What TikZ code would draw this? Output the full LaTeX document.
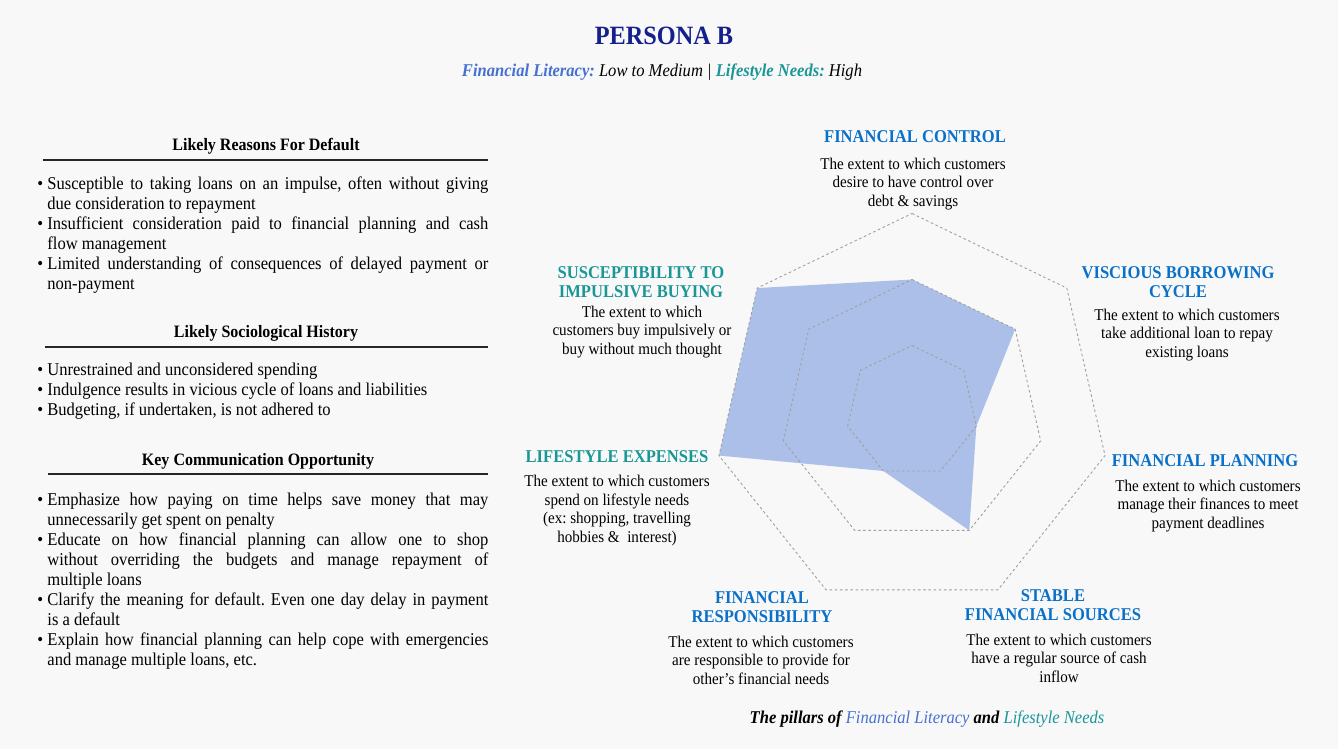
\documentclass[tikz,border=0pt]{standalone}
\usepackage{fontspec}
\setmainfont{Liberation Serif}[FakeStretch=0.92]
\usetikzlibrary{positioning}

\definecolor{personanavy}{RGB}{20,32,140}
\definecolor{litblue}{RGB}{70,112,210}
\definecolor{needteal}{RGB}{26,150,150}
\definecolor{pillarblue}{RGB}{10,112,200}
\definecolor{radarfill}{RGB}{172,191,233}
\definecolor{gridgray}{RGB}{160,160,160}
\definecolor{pagebg}{RGB}{248,248,249}

% hanging bullet for the left lists
\newcommand{\bitem}{\par\noindent\hangindent=5pt\hangafter=1\makebox[5pt][l]{\textbullet}}
\frenchspacing

\tikzset{
  pillarhead/.style={font=\fontsize{9}{9.5}\selectfont\bfseries, align=center, inner sep=0pt},
  literacy/.style={pillarhead, text=pillarblue},
  lifestyle/.style={pillarhead, text=needteal},
  pillartext/.style={font=\fontsize{8.2}{9.2}\selectfont, align=center, inner sep=0pt},
  listhead/.style={font=\fontsize{8.7}{10}\selectfont\bfseries, inner sep=0pt},
  listtext/.style={font=\fontsize{9}{10}\selectfont, text width=225.5pt,
    align=justify, inner sep=0pt, anchor=north west},
  headrule/.style={line width=0.9pt, draw=black!85},
  gridring/.style={draw=gridgray, line width=0.45pt, dash pattern=on 1.3pt off 1.3pt}
}

\begin{document}
\begin{tikzpicture}[x=0.5pt, y=-0.5pt]
  \fill[pagebg] (0,0) rectangle (1338,749);
  \useasboundingbox (0,0) rectangle (1338,749);

  % title
  \node[font=\fontsize{13.2}{15}\selectfont\bfseries, text=personanavy] (title) at (664,36) {PERSONA B};
  \node[font=\fontsize{9}{10}\selectfont\itshape] (subtitle) at (662,72)
    {\textbf{\color{litblue}Financial Literacy:} Low to Medium | \textbf{\color{needteal}Lifestyle Needs:} High};

  % left column
  \node[listhead] (reasons) at (266,146) {Likely Reasons For Default};
  \coordinate (reasons l) at (43,160);
  \coordinate (reasons r) at (488,160);
  \draw[headrule] (reasons l) -- (reasons r);
  \node[listtext] (reasons list) at (37,169) {%
    \bitem Susceptible to taking loans on an impulse, often without giving\linebreak due consideration to repayment
    \bitem Insufficient consideration paid to financial planning and cash\linebreak flow management
    \bitem Limited understanding of consequences of delayed payment or\linebreak non-payment\par};

  \node[listhead] (history) at (266,333) {Likely Sociological History};
  \coordinate (history l) at (45,347);
  \coordinate (history r) at (488,347);
  \draw[headrule] (history l) -- (history r);
  \node[listtext] (history list) at (37,355) {%
    \bitem Unrestrained and unconsidered spending
    \bitem Indulgence results in vicious cycle of loans and liabilities
    \bitem Budgeting, if undertaken, is not adhered to\par};

  \node[listhead] (comms) at (258,461) {Key Communication Opportunity};
  \coordinate (comms l) at (48,474);
  \coordinate (comms r) at (488,474);
  \draw[headrule] (comms l) -- (comms r);
  \node[listtext] (comms list) at (37,485) {%
    \bitem Emphasize how paying on time helps save money that may\linebreak unnecessarily get spent on penalty
    \bitem Educate on how financial planning can allow one to shop\linebreak without overriding the budgets and manage repayment of\linebreak multiple loans
    \bitem Clarify the meaning for default. Even one day delay in payment\linebreak is a default
    \bitem Explain how financial planning can help cope with emergencies\linebreak and manage multiple loans, etc.\par};

  % radar
  \begin{scope}[shift={(912,411.5)}]
    \coordinate (hub) at (0,0);
    \fill[radarfill] (-90:132) \foreach \a/\r in {-38.57/132, 12.86/66, 64.29/132, 115.71/66, 167.14/198, 218.57/198} { -- (\a:\r) } -- cycle;
    \foreach \r in {66,132,198}
      \draw[gridring] (-90:\r) \foreach \k in {1,...,6} { -- (\k*360/7-90:\r) } -- cycle;
  \end{scope}

  % pillars
  \node[literacy] (control) at (915,137) {FINANCIAL CONTROL};
  \node[pillartext] (control text) at (913,184) {The extent to which customers\\desire to have control over\\debt \& savings};
  \node[lifestyle] (impulse) at (641,282) {SUSCEPTIBILITY TO\\IMPULSIVE BUYING};
  \node[pillartext] (impulse text) at (642,332) {The extent to which\\customers buy impulsively or\\buy without much thought};
  \node[literacy] (borrowing) at (1178,282) {VISCIOUS BORROWING\\CYCLE};
  \node[pillartext] (borrowing text) at (1187,335) {The extent to which customers\\take additional loan to repay\\existing loans};
  \node[lifestyle] (expenses) at (617,457) {LIFESTYLE EXPENSES};
  \node[pillartext] (expenses text) at (617,510.5) {The extent to which customers\\spend on lifestyle needs\\(ex: shopping, travelling\\hobbies \&\ \ interest)};
  \node[literacy] (planning) at (1205,461) {FINANCIAL PLANNING};
  \node[pillartext] (planning text) at (1208,506) {The extent to which customers\\manage their finances to meet\\payment deadlines};
  \node[literacy] (responsibility) at (762,607) {FINANCIAL\\RESPONSIBILITY};
  \node[pillartext] (responsibility text) at (761,660) {The extent to which customers\\are responsible to provide for\\other’s financial needs};
  \node[literacy] (sources) at (1053,605) {STABLE\\FINANCIAL SOURCES};
  \node[pillartext] (sources text) at (1059,658) {The extent to which customers\\have a regular source of cash\\inflow};

  \node[font=\fontsize{9}{10}\selectfont\bfseries\itshape] (pillars) at (927,719)
    {The pillars of {\mdseries\color{litblue}Financial Literacy} and {\mdseries\color{needteal}Lifestyle Needs}};
\end{tikzpicture}
\end{document}
